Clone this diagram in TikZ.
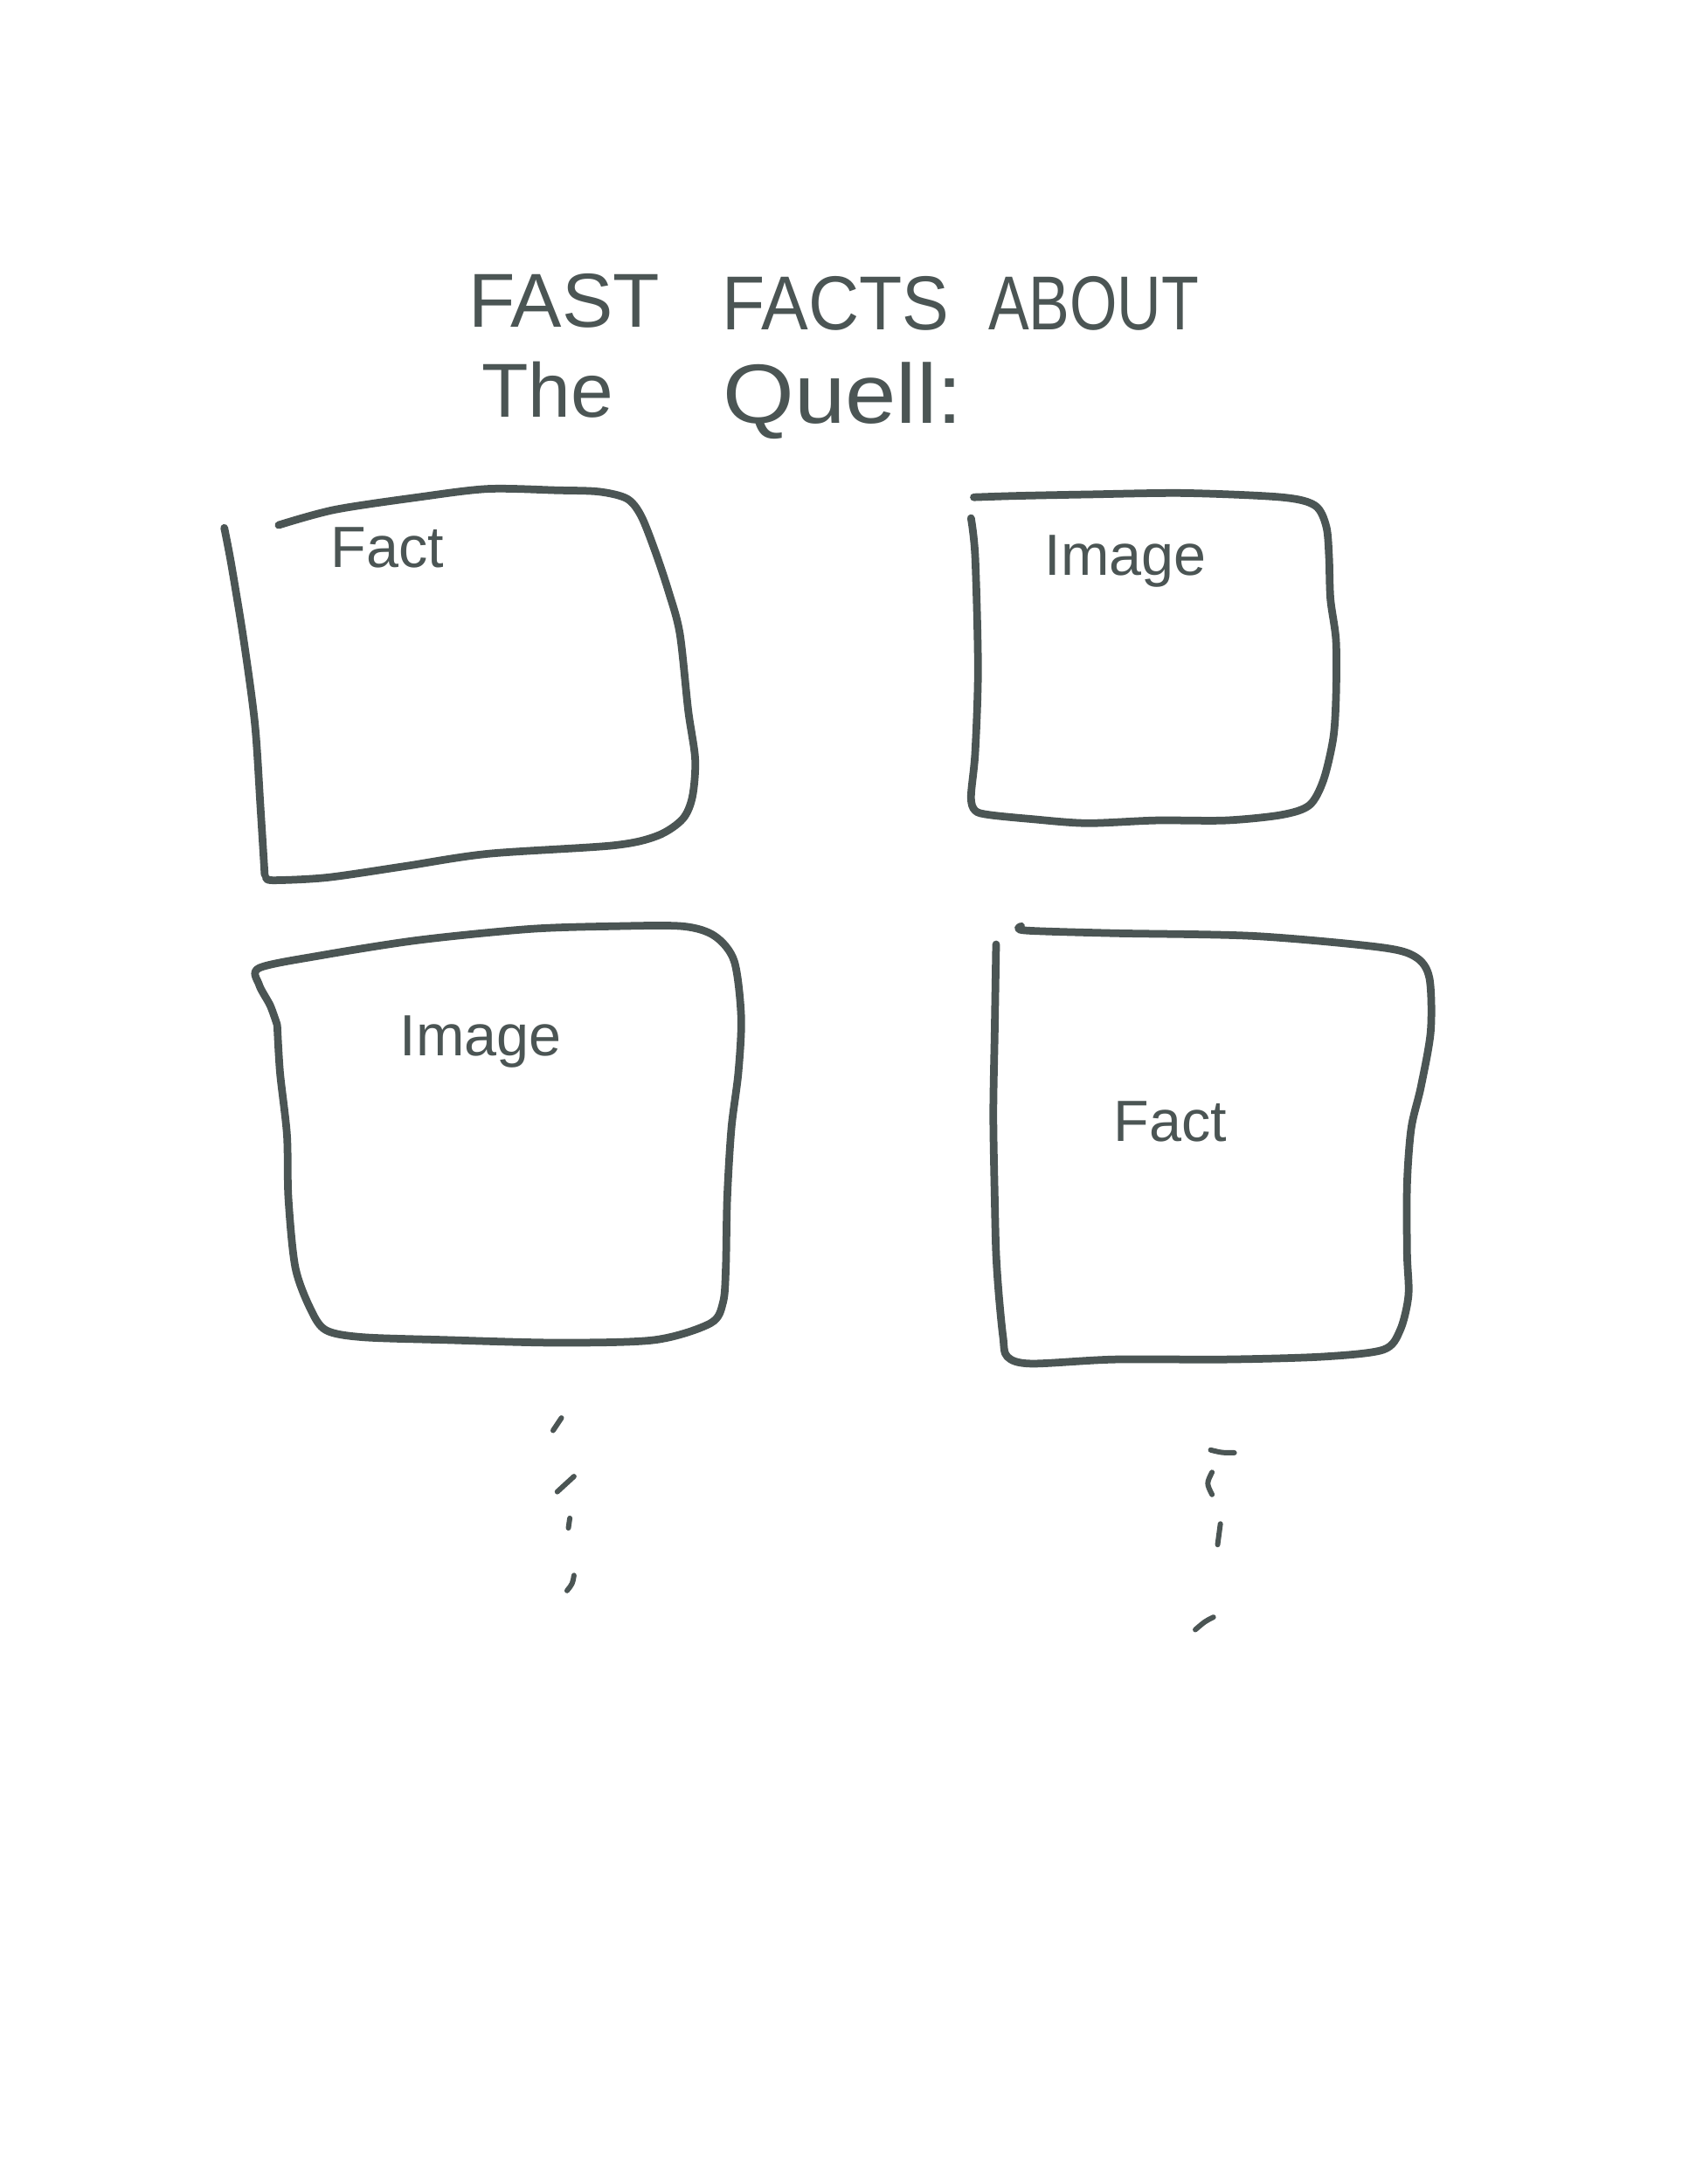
\documentclass[tikz,border=0pt]{standalone}
\usepackage{fontspec}
\setmainfont{Liberation Sans}
\definecolor{ink}{HTML}{4B5554}
\begin{document}
\begin{tikzpicture}[x=0.016cm,y=-0.016cm,
  pen/.style={draw=ink,line width=2.5pt,line cap=round,line join=round},
  dot/.style={draw=ink,line width=1.7pt,line cap=round},
  title/.style={text=ink,font=\fontsize{25}{28}\selectfont},
  lbl/.style={text=ink,font=\fontsize{19}{22}\selectfont}]
\useasboundingbox[fill=white] (0,0) rectangle (1212,1568);
% title
\node[title] (w1) at (405,216) {FAST};
\node[title,xscale=0.92] (w2) at (600,218) {FACTS};
\node[title,xscale=0.8] (w3) at (785,218) {ABOUT};
\node[title] (w4) at (393,280) {The};
\node[title,xscale=1.2,yscale=1.1] (w5) at (605,288) {Quell:};
% box 1 (Fact)
\draw[pen] plot[smooth,tension=0.5] coordinates {(161,379) (166,405) (175,460) (183,520) (187,580) (190,628)};
\draw[pen] plot[smooth,tension=0.5] coordinates {(191,630) (196,632) (235,630) (290,622) (350,613) (440,607) (472,600) (490,588) (497,572) (499,545) (494,510) (488,455) (480,425) (470,395) (460,370) (450,358) (430,353) (400,352) (350,351) (300,357) (240,366) (200,377)};
\node[lbl] (f1) at (278,393) {Fact};
% box 2 (Image)
\draw[pen] plot[smooth,tension=0.5] coordinates {(697,372) (700,400) (702,480) (700,540) (697,572) (700,582) (710,585) (740,588) (780,591) (830,589) (880,589) (920,585) (940,578) (950,560) (957,530) (959,500) (959,460) (955,430) (954,400) (952,378) (944,363) (920,357) (850,354) (780,355) (730,356) (699,357)};
\node[lbl] (i1) at (808,403) {Image};
% box 3 (Image)
\draw[pen] plot[smooth,tension=0.5] coordinates {(199,736) (194,722) (186,707) (186,695) (230,686) (300,675) (380,667) (440,665) (490,665) (513,672) (527,690) (532,730) (530,770) (525,810) (522,860) (521,910) (519,935) (510,950) (470,962) (400,964) (320,962) (260,960) (234,955) (223,940) (212,910) (207,860) (206,815) (201,770) (199,736)};
\node[lbl] (i2) at (345,748) {Image};
% box 4 (Fact)
\draw[pen] plot[smooth,tension=0.5] coordinates {(715,678) (714,740) (713,800) (714,860) (715,900) (717,930) (720,960) (723,974) (740,979) (800,976) (880,976) (950,974) (993,969) (1005,955) (1011,930) (1010,900) (1010,850) (1013,810) (1020,780) (1027,740) (1026,702) (1016,687) (990,680) (900,672) (800,670) (736,668) (733,665)};
\node[lbl] (f2) at (840,805) {Fact};
% dots left
\draw[dot] (397,1027) -- (403,1018);
\draw[dot] (400,1071) -- (412,1060);
\draw[dot] (408,1097) -- (409,1090);
\draw[dot] (407,1142) .. controls (411,1137) .. (412,1131);
% dots right
\draw[dot] (869,1041) .. controls (877,1043) .. (886,1043);
\draw[dot] (870,1057) .. controls (866,1065) .. (870,1073);
\draw[dot] (876,1094) -- (874,1109);
\draw[dot] (871,1161) .. controls (865,1164) .. (858,1170);
\end{tikzpicture}
\end{document}
